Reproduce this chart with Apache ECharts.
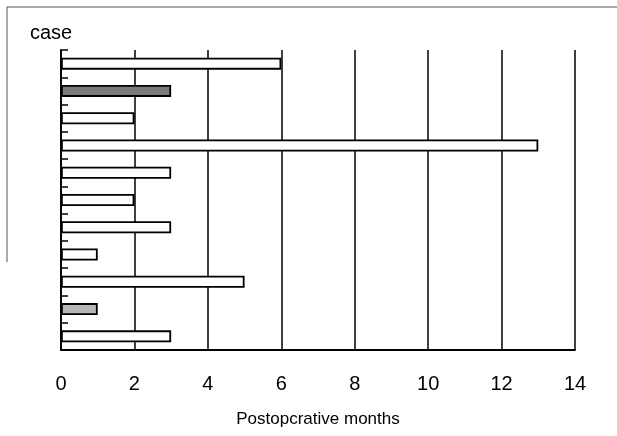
<!DOCTYPE html>
<html>
<head>
<meta charset="utf-8">
<script src="https://cdn.jsdelivr.net/npm/echarts@6/dist/echarts.min.js"></script>
<style>
    html, body { margin: 0; padding: 0; background: #fff; }
    #chart { width: 617px; height: 436px; }
</style>
</head>
<body>
<div id="chart"></div>
<script>
// cases listed top to bottom
const cases = ['1', '2', '3', '4', '5', '6', '7', '8', '9', '10', '11'];
// follow-up length per case (months)
const months = [6, 3, 2, 13, 3, 2, 3, 1, 5, 1, 3];
// bar shading as printed: open, dark hatched, light hatched
const shading = ['open', 'dark', 'open', 'open', 'open', 'open', 'open', 'open', 'open', 'light', 'open'];
const monthTicks = [0, 2, 4, 6, 8, 10, 12, 14];

const fills = {
    open: '#ffffff',
    dark: '#7a7a7a',
    light: '#b6b6b6'
};

const font = 'Liberation Sans, Arial, Helvetica, sans-serif';

const chart = echarts.init(document.getElementById('chart'), null, { renderer: 'canvas' });

const option = {
    backgroundColor: '#ffffff',
    animation: false,
    title: {
        text: 'case',
        left: 25,
        top: 18,
        textStyle: {
            color: '#000',
            fontSize: 20,
            fontWeight: 'normal',
            fontFamily: font
        }
    },
    grid: {
        left: 61,
        right: 42,
        top: 50,
        bottom: 86
    },
    xAxis: {
        type: 'value',
        min: monthTicks[0],
        max: monthTicks[monthTicks.length - 1],
        interval: 2,
        name: 'Postopcrative months',
        nameLocation: 'middle',
        nameGap: 61,
        nameTextStyle: {
            color: '#000',
            fontSize: 17,
            fontFamily: font
        },
        axisLine: {
            show: true,
            lineStyle: { color: '#000', width: 1.8 }
        },
        axisTick: { show: false },
        axisLabel: {
            color: '#000',
            fontSize: 20,
            fontFamily: font,
            margin: 24
        },
        splitLine: {
            show: true,
            lineStyle: { color: '#000', width: 1.5 }
        }
    },
    yAxis: {
        type: 'category',
        data: cases,
        inverse: true,
        axisLine: {
            show: true,
            lineStyle: { color: '#000', width: 1.8 }
        },
        axisTick: {
            show: true,
            inside: true,
            length: 7,
            lineStyle: { color: '#000', width: 1.5 }
        },
        axisLabel: { show: false },
        splitLine: { show: false }
    },
    graphic: [
        {
            type: 'polyline',
            silent: true,
            shape: { points: [[7, 262], [7, 7], [617, 7]] },
            style: { stroke: '#555', lineWidth: 1, fill: null }
        }
    ],
    series: [{
        type: 'bar',
        barWidth: 12,
        data: months.map((v, i) => ({
            value: v,
            itemStyle: { color: fills[shading[i]] }
        })),
        itemStyle: {
            borderColor: '#000',
            borderWidth: 1.8
        }
    }]
};

chart.setOption(option);
</script>
</body>
</html>
